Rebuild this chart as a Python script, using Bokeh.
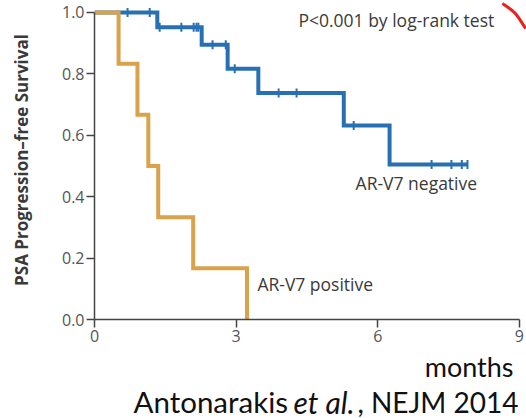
import numpy as np
from bokeh.plotting import figure
from bokeh.layouts import column
from bokeh.models import Range1d, FixedTicker, Label, NumeralTickFormatter
from bokeh.core.properties import value
from bokeh.embed import file_html
from bokeh.resources import INLINE

# AR-V7 negative (blue)
neg_time = [0, 1.33, 2.27, 2.82, 3.47, 5.28, 6.25, 7.90]
neg_surv = [1.0, 0.952, 0.895, 0.817, 0.738, 0.632, 0.505, 0.505]
neg_censor = [0.70, 1.17, 1.38, 1.84, 2.10, 2.16, 2.20, 2.50, 2.78, 2.97,
              3.90, 4.28, 5.49, 7.14, 7.56, 7.78, 7.90]

# AR-V7 positive (orange)
pos_time = [0, 0.51, 0.91, 1.14, 1.35, 2.09, 3.23]
pos_surv = [1.0, 0.833, 0.667, 0.5, 0.333, 0.167, 0.0]

x_ticks = [0, 3, 6, 9]
y_ticks = [0.0, 0.2, 0.4, 0.6, 0.8, 1.0]

# red annotation stroke at top-right corner of the slide
arc_pts = [(8.64, 1.029), (8.92, 1.0), (9.13, 0.948)]

BLUE = "#2870b4"
ORANGE = "#d9a24b"
TXT = "#3a3a3a"
FONT = "Open Sans"

p = figure(width=526, height=350, output_backend="svg", toolbar_location=None,
           x_range=Range1d(0, 9.15), y_range=Range1d(0, 1.039),
           min_border_left=94, min_border_right=0, min_border_top=0,
           min_border_bottom=31)
p.outline_line_color = None
p.grid.grid_line_color = None
p.background_fill_color = "white"
p.border_fill_color = "white"

for ax in (p.xaxis[0], p.yaxis[0]):
    ax.axis_line_color = "#444444"
    ax.axis_line_width = 1.5
    ax.major_tick_line_color = "#444444"
    ax.major_tick_line_width = 1.5
    ax.major_tick_out = 8
    ax.major_tick_in = 0
    ax.minor_tick_line_color = None
    ax.major_label_text_font = FONT
    ax.major_label_text_font_size = "16px"
    ax.major_label_text_color = "#555555"

p.xaxis.ticker = FixedTicker(ticks=x_ticks)
p.xaxis.bounds = (0, 9)
p.xaxis.major_label_standoff = 2
p.yaxis.ticker = FixedTicker(ticks=y_ticks)
p.yaxis.bounds = (0, 1)
p.yaxis.formatter = NumeralTickFormatter(format="0.0")
p.yaxis.major_label_standoff = 2
p.yaxis.axis_label = "PSA Progression\u2013free Survival"
p.yaxis.axis_label_text_font = FONT
p.yaxis.axis_label_text_font_style = "bold"
p.yaxis.axis_label_text_font_size = "17px"
p.yaxis.axis_label_text_color = TXT
p.yaxis.axis_label_standoff = 26

p.step(neg_time, neg_surv, mode="after", line_color=BLUE, line_width=4,
       line_join="miter")
nt = np.array(neg_time)
ns = np.array(neg_surv)
cy = ns[np.searchsorted(nt, np.array(neg_censor), side="right") - 1]
p.scatter(neg_censor, cy, marker="dash", angle=np.pi / 2, size=9,
          line_color=BLUE, line_width=2)

p.step(pos_time, pos_surv, mode="after", line_color=ORANGE, line_width=4,
       line_join="miter")

p.bezier(x0=[arc_pts[0][0]], y0=[arc_pts[0][1]], x1=[arc_pts[2][0]], y1=[arc_pts[2][1]],
         cx0=[arc_pts[1][0]], cy0=[arc_pts[1][1]], cx1=[arc_pts[1][0]], cy1=[arc_pts[1][1]],
         line_color="#e8231f", line_width=3)

def lab(x, y, text, size):
    p.add_layout(Label(x=x, y=y, text=text, text_font=FONT, text_font_size=size,
                       text_align="left", text_baseline="middle", text_color=TXT))

lab(4.32, 0.974, "P<0.001 by log-rank test", "17.5px")
lab(5.53, 0.443, "AR-V7 negative", "17.5px")
lab(3.45, 0.117, "AR-V7 positive", "17.5px")

# caption panel below the chart (its frame is aligned with the chart's frame: x 94..526)
q = figure(width=526, height=68, output_backend="svg", toolbar_location=None,
           x_range=Range1d(94, 526), y_range=Range1d(68, 0),
           min_border_left=0, min_border_right=0, min_border_top=0, min_border_bottom=0)
q.axis.visible = False
q.grid.grid_line_color = None
q.outline_line_color = None

def cap(x, y, text, align, size, style="normal"):
    q.text(x=[x], y=[y], text=[text], text_font=value("Lato"), text_font_size=size,
           text_align=align, text_baseline="alphabetic", text_color="#111111",
           text_font_style=style)

cap(513, 16, "months", "right", "27px")
cap(133, 51, "Antonarakis", "left", "29.5px")
cap(293, 51, "et al.", "left", "30px", "italic")
cap(518, 51, ", NEJM 2014", "right", "28px")

open("out.html", "w").write(file_html(column(p, q, spacing=0), INLINE))
